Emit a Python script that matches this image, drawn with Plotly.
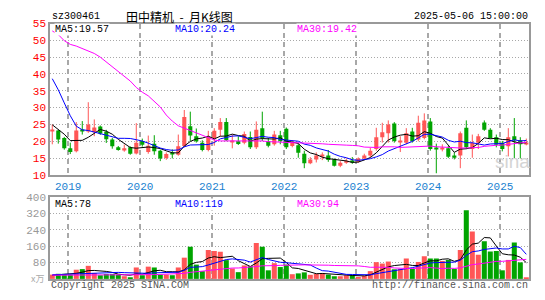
import plotly.graph_objects as go

# ---------------- data (monthly, Oct 2018 .. May 2025) ----------------
opens = [23.1, 23.2, 21.0, 17.9, 17.0, 23.2, 22.9, 22.7, 24.4, 22.8,
         20.5, 18.2, 17.5, 18.2, 16.4, 20.1, 16.8, 19.3, 17.2, 15.0,
         16.4, 16.0, 18.6, 24.5, 21.5, 19.6, 17.4, 21.0, 23.4, 25.7,
         19.9, 20.0, 19.6, 21.3, 18.2, 23.9, 20.0, 19.1, 21.8, 23.7,
         18.6, 18.8, 16.3, 13.5, 14.6, 15.6, 15.8, 14.6, 12.7, 13.6,
         14.2, 13.9, 14.9, 15.8, 17.7, 21.2, 22.4, 25.3, 19.9, 19.6,
         22.9, 20.5, 21.0, 25.9, 17.8, 17.6, 17.9, 15.8, 15.8, 24.0,
         17.7, 19.6, 25.6, 23.4, 21.2, 19.6, 18.5, 21.5, 20.3, 19.1]
highs = [25.0, 23.4, 21.3, 19.6, 25.7, 26.0, 31.6, 26.5, 24.7, 23.4,
         21.0, 18.6, 19.0, 18.5, 25.4, 20.8, 21.7, 21.8, 17.5, 16.7,
         17.6, 22.0, 29.3, 28.8, 23.8, 20.3, 23.1, 23.9, 26.9, 26.9,
         22.0, 21.5, 22.9, 22.9, 25.9, 28.8, 21.0, 23.1, 23.1, 24.1,
         20.2, 19.6, 17.2, 15.3, 16.7, 16.7, 17.4, 14.9, 14.1, 14.9,
         15.3, 15.2, 16.3, 18.0, 24.0, 25.5, 26.2, 25.7, 21.5, 23.9,
         24.0, 27.6, 28.3, 26.9, 19.3, 19.1, 18.7, 16.7, 22.9, 26.2,
         22.0, 22.2, 26.2, 23.9, 22.0, 20.1, 23.9, 26.9, 21.2, 20.8]
lows = [19.1, 19.3, 17.5, 16.2, 16.7, 22.0, 22.5, 21.5, 21.9, 19.5,
        17.8, 17.2, 16.9, 16.0, 16.1, 18.4, 16.3, 16.0, 14.1, 14.5,
        14.9, 15.7, 18.2, 20.1, 19.6, 17.0, 17.0, 18.7, 21.5, 20.1,
        17.9, 18.9, 19.1, 17.7, 17.7, 20.1, 18.2, 18.7, 19.1, 17.7,
        18.2, 15.1, 12.0, 13.2, 13.7, 14.4, 13.9, 12.5, 12.3, 13.3,
        13.3, 13.6, 14.4, 15.3, 17.2, 19.6, 19.6, 19.6, 16.8, 19.1,
        19.6, 20.0, 20.6, 17.2, 10.5, 17.0, 15.0, 14.6, 12.0, 17.7,
        15.1, 17.7, 23.1, 20.8, 18.2, 17.0, 15.5, 14.9, 14.9, 18.8]
closes = [23.3, 20.5, 17.9, 16.8, 23.2, 23.0, 25.0, 24.1, 22.3, 20.6,
          18.5, 17.4, 17.9, 16.3, 19.6, 19.0, 18.7, 17.0, 14.9, 16.2,
          16.1, 18.5, 27.2, 21.7, 20.0, 17.4, 21.3, 23.1, 25.7, 20.3,
          20.2, 19.2, 22.2, 18.2, 23.4, 21.0, 18.7, 22.0, 20.1, 18.2,
          19.8, 16.6, 13.5, 14.6, 15.8, 15.9, 14.4, 12.7, 13.6, 14.2,
          13.7, 14.9, 15.8, 17.2, 21.2, 22.7, 25.0, 20.1, 20.1, 22.4,
          20.1, 25.5, 26.2, 17.7, 17.6, 17.8, 15.4, 15.1, 22.4, 18.2,
          19.6, 21.5, 23.4, 21.0, 19.0, 17.7, 21.2, 20.3, 19.1, 19.6]
volumes = [21, 25, 25, 21, 45, 48, 64, 29, 18, 24,
           24, 21, 13, 8, 56, 18, 60, 56, 21, 21,
           18, 56, 104, 157, 70, 38, 142, 137, 133, 92,
           51, 33, 66, 62, 176, 157, 42, 77, 58, 70,
           23, 27, 32, 20, 25, 29, 21, 13, 13, 18,
           18, 10, 15, 38, 82, 75, 85, 47, 49, 100,
           49, 83, 111, 100, 100, 88, 93, 49, 142, 336,
           232, 118, 185, 134, 137, 42, 93, 178, 81, 4]

# moving-average values visible before enough history exists in the window
ma5_head = [24.9, 23.5, 22.1, 20.2]
ma10_head = [38.6, 35.3, 31.4, 27.6, 24.5, 23.4, 23.2, 22.7, 22.2]
ma30_head = [52.8, 51.7, 49.9, 48.8, 48.3, 47.6, 46.9, 46.1, 45.0, 43.6,
             42.2, 40.8, 39.3, 37.9, 36.0, 34.6, 33.5, 31.8, 30.2, 27.8,
             26.0, 24.6, 23.9, 23.2, 22.4, 21.8, 21.0, 20.4, 20.1]
vma5_head = [17, 19, 22, 23]
vma10_head = [20, 21, 22, 23, 24, 26, 28, 30, 31]
vma30_head = [18, 18, 19, 19, 20, 20, 21, 21, 21, 21, 21, 20, 20, 19, 19,
              19, 20, 21, 22, 23, 24, 26, 27, 32, 35, 38, 43, 47, 50]

year_labels = ["2019", "2020", "2021", "2022", "2023", "2024", "2025"]
year_index = [3, 15, 27, 39, 51, 63, 75]   # January of each year
price_ticks = [10, 15, 20, 25, 30, 35, 40, 45, 50, 55]
vol_ticks = [80, 160, 240, 320, 400]

ma_text = ["MA5:19.57", "MA10:20.24", "MA30:19.42"]
vma_text = ["MA5:78", "MA10:119", "MA30:94"]
code = "sz300461"
title = "田中精机&nbsp;&nbsp;-&nbsp;&nbsp;月K线图"
stamp = "2025-05-06 15:00:00"

# ---------------- helpers ----------------
def ma(vals, n, head):
    out = []
    for i in range(len(vals)):
        if i >= n - 1:
            out.append(sum(vals[i - n + 1:i + 1]) / n)
        else:
            out.append(head[i])
    return out

RED = "#ff5656"
GREEN = "#00a400"
GRID = "#a8a8a8"
MONO = "Liberation Mono, DejaVu Sans Mono, monospace"

n = len(closes)
idx = list(range(n))
up = [closes[i] >= opens[i] for i in idx]
cols = [RED if u else GREEN for u in up]

fig = go.Figure()

# wicks
for flag, c in ((True, RED), (False, GREEN)):
    xs, ys = [], []
    for i in idx:
        if up[i] == flag:
            xs += [i, i, None]
            ys += [lows[i], highs[i], None]
    fig.add_trace(go.Scatter(x=xs, y=ys, mode="lines", line=dict(color=c, width=1),
                             hoverinfo="skip", xaxis="x", yaxis="y"))

# bodies
base = [min(opens[i], closes[i]) for i in idx]
height = [max(abs(closes[i] - opens[i]), 0.28) for i in idx]
fig.add_trace(go.Bar(x=idx, y=height, base=base, width=0.68,
                     marker=dict(color=cols, line=dict(width=0)),
                     xaxis="x", yaxis="y"))

# price MAs
for vals, c in ((ma(closes, 5, ma5_head), "#000000"),
                (ma(closes, 10, ma10_head), "#0000ff"),
                (ma(closes, 30, ma30_head), "#ff00ff")):
    fig.add_trace(go.Scatter(x=idx, y=vals, mode="lines", line=dict(color=c, width=1),
                             xaxis="x", yaxis="y"))

# volume
fig.add_trace(go.Bar(x=idx, y=volumes, width=0.84,
                     marker=dict(color=cols, line=dict(width=0)),
                     xaxis="x2", yaxis="y2"))
for vals, c in ((ma(volumes, 5, vma5_head), "#000000"),
                (ma(volumes, 10, vma10_head), "#0000ff"),
                (ma(volumes, 30, vma30_head), "#ff00ff")):
    fig.add_trace(go.Scatter(x=idx, y=vals, mode="lines", line=dict(color=c, width=1),
                             xaxis="x2", yaxis="y2"))

W, H = 545, 300
L, R = 50, 529
def px(x):
    return x / W
def py(y):
    return 1 - y / H

xr = [-0.38, 79.45]
grid_x = [j - 0.35 for j in year_index]

fig.update_layout(
    width=W, height=H, margin=dict(l=0, r=0, t=0, b=0),
    paper_bgcolor="white", plot_bgcolor="white", showlegend=False,
    barmode="overlay",
    xaxis=dict(domain=[px(L), px(R)], range=xr, tickvals=grid_x, ticktext=year_labels,
               showgrid=True, gridcolor=GRID, griddash="5px,4px", gridwidth=1.5,
               tickfont=dict(family=MONO, size=11, color="#1a7fd0"), ticks="",
               showline=True, mirror=True, linecolor="#999999", linewidth=1.5,
               zeroline=False, anchor="y", fixedrange=True),
    yaxis=dict(domain=[py(177), py(19.3)], range=[10, 55], tickvals=price_ticks,
               showgrid=True, gridcolor=GRID, griddash="1px,2px", gridwidth=1,
               tickfont=dict(family=MONO, size=11, color="#ff0000"), ticks="",
               showline=True, mirror=True, linecolor="#999999", linewidth=1.5,
               zeroline=False, anchor="x"),
    xaxis2=dict(domain=[px(L), px(R)], range=xr, tickvals=grid_x, showticklabels=False,
                showgrid=True, gridcolor=GRID, griddash="5px,4px", gridwidth=1.5, ticks="",
                showline=True, mirror=True, linecolor="#999999", linewidth=1.5,
                zeroline=False, anchor="y2"),
    yaxis2=dict(domain=[py(285.3), py(200.3)], range=[0, 400], tickvals=vol_ticks,
                showgrid=True, gridcolor=GRID, griddash="1px,2px", gridwidth=1,
                tickfont=dict(family=MONO, size=11, color="#999999"), ticks="",
                showline=True, mirror=True, linecolor="#999999", linewidth=1.5,
                zeroline=False, anchor="x2"),
)

def text(x, y, s, color="#000000", size=10, xanchor="left", family=MONO, **kw):
    fig.add_annotation(x=px(x), y=py(y), xref="paper", yref="paper", text=s,
                       showarrow=False, xanchor=xanchor, yanchor="middle",
                       font=dict(family=family, size=size, color=color), **kw)

text(50, 12, code, size=10)
text(179, 12, title, size=12, xanchor="center",
     family="Noto Sans CJK SC, sans-serif")
text(530, 12, stamp, size=10, xanchor="right")

ma_x = [54, 174, 296]
ma_cols = ["#000000", "#0000ff", "#ff00ff"]
for s, x, c in zip(ma_text, ma_x, ma_cols):
    text(x, 25, s, color=c, size=10, bgcolor="white", borderpad=0)
for s, x, c in zip(vma_text, ma_x, ma_cols):
    text(x, 208, s, color=c, size=10, bgcolor="white", borderpad=0)

text(46, 285, "x万", color="#aaaaaa", size=9, xanchor="right",
     family="Noto Sans CJK SC, sans-serif")
text(49, 292, "Copyright 2025 SINA.COM", color="#555555", size=10)
text(530, 292, "http://finance.sina.com.cn", color="#555555", size=10, xanchor="right")
text(512, 163, "sina", color="#d4d4d4", size=19, xanchor="center",
     family="Liberation Sans, Arial, sans-serif")

fig.write_html("out.html")
